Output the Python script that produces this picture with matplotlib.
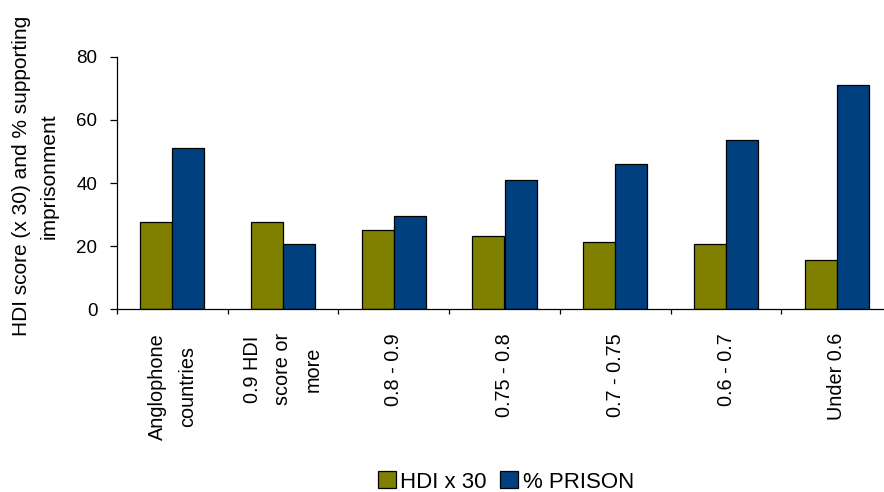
import matplotlib
matplotlib.use("Agg")
import matplotlib.pyplot as plt
import numpy as np

plt.rcParams['font.family'] = ['Liberation Sans', 'DejaVu Sans']

# data
categories = ['Anglophone\ncountries', '0.9 HDI\nscore or\nmore', '0.8 - 0.9',
              '0.75 - 0.8', '0.7 - 0.75', '0.6 - 0.7', 'Under 0.6']
hdi_x30 = [27.5, 27.5, 25.1, 23.1, 21.3, 20.7, 15.6]
prison = [51.0, 20.8, 29.5, 40.8, 45.9, 53.5, 71.0]
yticks = [0, 20, 40, 60, 80]

olive = '#808000'
blue = '#00407F'

fig = plt.figure(figsize=(8.84, 4.92), dpi=100)
# plot area runs a bit past the right edge of the picture, like the original
ax = fig.add_axes([116.7 / 884, 1 - 309.3 / 492, 775.6 / 884, 252.6 / 492])

x = np.arange(len(categories))
w = 0.29
ax.bar(x - w / 2, hdi_x30, w, color=olive, edgecolor='black', linewidth=0.9, label='HDI x 30')
ax.bar(x + w / 2, prison, w, color=blue, edgecolor='black', linewidth=0.9, label='% PRISON')

ax.set_xlim(-0.5, len(categories) - 0.5)
ax.set_ylim(0, 80)
ax.set_yticks(yticks)
ax.tick_params(axis='y', direction='out', length=5, width=0.9, pad=9, labelsize=13.5)

# boundary ticks as major, category names as minor
ax.set_xticks(np.arange(len(categories) + 1) - 0.5)
ax.set_xticklabels([])
ax.tick_params(axis='x', which='major', direction='out', length=3.6, width=0.9)
ax.set_xticks(x, minor=True)
ax.set_xticklabels(categories, minor=True, rotation=90, fontsize=14.3,
                   va='top', ha='center', multialignment='center', linespacing=1.75)
ax.tick_params(axis='x', which='minor', length=0, pad=17)

for s in ['top', 'right']:
    ax.spines[s].set_visible(False)
for s in ['left', 'bottom']:
    ax.spines[s].set_linewidth(0.9)

fig.text(35 / 884, 1 - 176 / 492, 'HDI score (x 30) and % supporting\nimprisonment',
         rotation=90, ha='center', va='center', multialignment='center',
         fontsize=15, linespacing=1.55)

fig.legend(loc='center', bbox_to_anchor=(506 / 884, 1 - 482 / 492), ncol=2,
           frameon=False, fontsize=16, handlelength=0.8, handleheight=0.8,
           handletextpad=0.2, columnspacing=0.6, borderpad=0)

fig.savefig('out.png', dpi=100)
